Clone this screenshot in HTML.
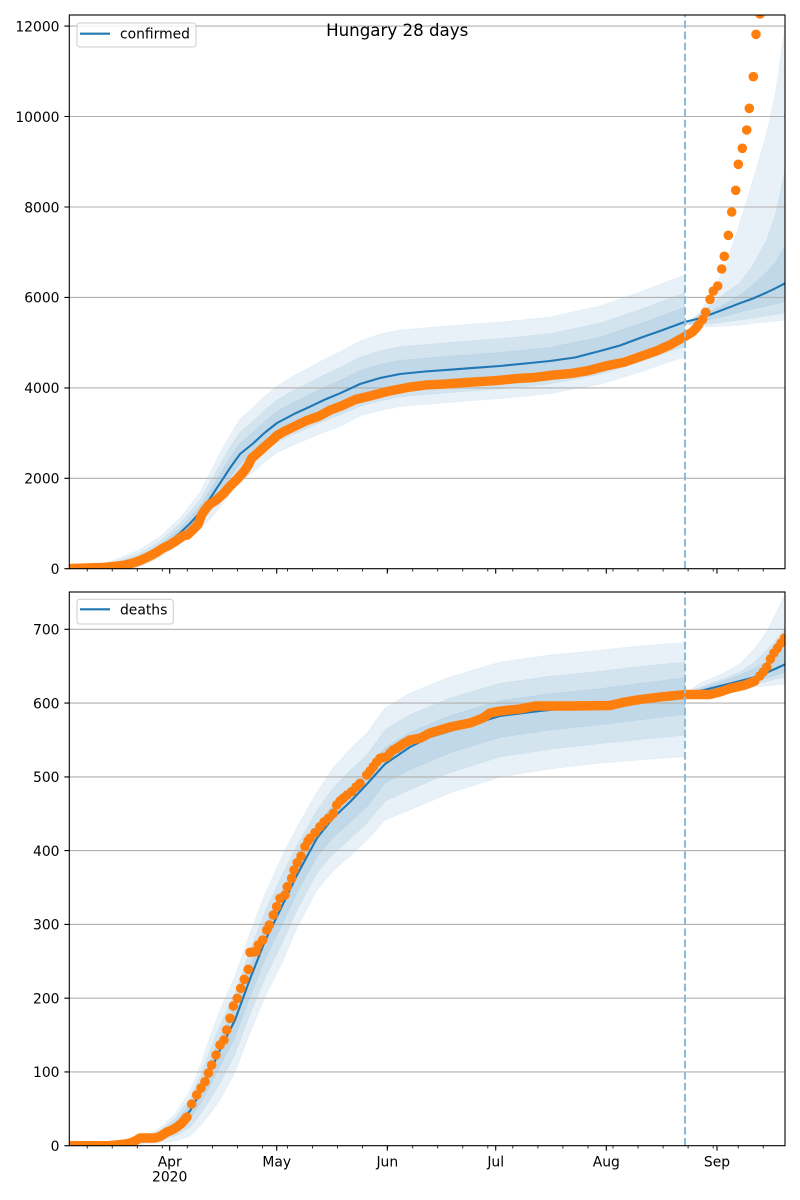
<!DOCTYPE html>
<html><head><meta charset="utf-8"><style>
html,body{margin:0;padding:0;background:#fff;}
svg{display:block;}
text{font-family:"DejaVu Sans","Liberation Sans",sans-serif;fill:#000;}
</style></head><body>
<svg width="800" height="1200" viewBox="0 0 800 1200" xmlns="http://www.w3.org/2000/svg">
<defs>
<clipPath id="c1"><rect x="69.3" y="15" width="715.7" height="553.7"/></clipPath>
<clipPath id="c2"><rect x="69.3" y="592" width="715.7" height="553.7"/></clipPath>
</defs>
<rect width="800" height="1200" fill="#fff"/>

<!-- ===== TOP CHART ===== -->
<g clip-path="url(#c1)">
<g fill="#1f77b4" fill-opacity="0.1" stroke="#1f77b4" stroke-opacity="0.06" stroke-width="0.8">
<polygon points="69.3,567.9 110,561.8 140,549.5 160,536.5 180,518.0 200,492.5 210,472.5 220,453.3 230,435.0 240,419.0 253,407.5 265,396.0 277,386.0 295,375.0 310,367.2 325,359.0 340,351.8 360,341.0 380,334.0 400,330.0 450,325.7 500,322.0 550,317.0 600,306.0 640,292.0 684.5,275.0 684.5,356.8 640,372.0 600,384.3 550,393.6 500,398.6 450,402.3 400,406.6 380,410.6 360,415.8 340,426.5 325,431.9 310,438.3 295,444.3 277,452.6 265,461.7 253,472.3 240,482.0 230,494.4 220,507.3 210,519.3 200,528.5 180,544.1 160,557.4 140,566.9 110,570.5 69.3,569"/>
<polygon points="69.3,568.1 110,563.7 140,553.3 160,541.1 180,523.7 200,500.1 210,482.4 220,464.7 230,447.5 240,432.3 253,421.2 265,409.9 277,400.1 295,389.6 310,382.2 325,374.4 340,367.6 360,357.3 380,350.7 400,346.7 450,342.4 500,338.7 550,333.7 600,323.1 640,309.5 684.5,292.9 684.5,346.4 640,361.9 600,374.4 550,383.9 500,388.9 450,392.6 400,396.9 380,400.9 360,406.4 340,414.9 325,420.6 310,427.2 295,433.5 277,442.2 265,451.5 253,462.2 240,472.2 230,485.2 220,498.9 210,512.0 200,522.9 180,540.8 160,554.7 140,564.7 110,569 69.3,569"/>
<polygon points="69.3,568.2 110,565.3 140,556.4 160,544.8 180,528.4 200,506.3 210,490.4 220,474.0 230,457.8 240,443.2 253,432.3 265,421.2 277,411.5 295,401.6 310,394.5 325,387.0 340,380.4 360,370.7 380,364.4 400,360.4 450,356.1 500,352.4 550,347.4 600,337.1 640,323.7 684.5,307.4 684.5,335.2 640,350.9 600,363.6 550,373.3 500,378.3 450,382.0 400,386.3 380,390.3 360,396.0 340,404.9 325,410.8 310,417.8 295,424.3 277,433.4 265,442.7 253,453.6 240,463.8 230,477.2 220,491.7 210,505.8 200,518.1 180,537.2 160,551.9 140,562.3 110,568.2 69.3,568.5"/>
<!-- forecast -->
<polygon points="686,324 700,312 713,292 726.7,263 740,222 753,180 766.7,133 776,90 785,26 785,320 776,321 766.7,322 753,323.5 740,325 726.7,326 713,326.5 700,327 686,324"/>
<polygon points="686,324 700,314 713,303 726.7,292 740,283 753,265 766.7,240 776,212 785,170 785,313 776,314.5 766.7,316 753,318 740,320 726.7,322 713,323.5 700,325 686,324"/>
<polygon points="686,324 700,316 713,310 726.7,303 740,295 753,285 766.7,272 776,262 785,245 785,301.7 776,304 766.7,306 753,309 740,312 726.7,316 713,319 700,322 686,324"/>
</g>
<!-- grid -->
<g stroke="#b0b0b0" stroke-width="1.1">
<line x1="69.3" x2="785" y1="478.3" y2="478.3"/>
<line x1="69.3" x2="785" y1="387.9" y2="387.9"/>
<line x1="69.3" x2="785" y1="297.4" y2="297.4"/>
<line x1="69.3" x2="785" y1="207.0" y2="207.0"/>
<line x1="69.3" x2="785" y1="116.5" y2="116.5"/>
<line x1="69.3" x2="785" y1="26.1" y2="26.1"/>
</g>
<!-- median -->
<polyline fill="none" stroke="#1f77b4" stroke-width="2.08" stroke-linejoin="round" points="69.3,568.4 90,568.0 110,566.8 127,564.0 140,559.5 150,554.5 160,548.5 170,541.0 180,533.0 190,523.5 200,512.5 210,498.5 220,483.3 230,468.0 240,454.0 253,443.5 265,432.5 277,423.0 295,413.5 310,406.7 325,399.5 340,393.3 360,384.0 380,378.0 400,374.0 425,371.5 450,369.7 475,367.8 500,366.0 525,363.5 550,361.0 575,357.5 600,351.0 620,345.5 640,338.0 660,331.0 684.5,322.0 700,318.3 713,313.5 726.7,308.3 740,303.2 753,298.5 766.7,292.5 776,288 785,283.3"/>
<!-- observed -->
<polyline fill="none" stroke="#ff7f0e" stroke-width="9.4" stroke-linecap="round" stroke-linejoin="round" points="69.3,568.6 105.1,567.3 123.0,565.4 133.7,562.8 140.8,560.2 148.0,556.9 155.1,553.2 162.3,548.5 169.5,545.0 176.6,540.5 183.8,535.6 187.3,535.1 194.5,528.2 198.1,524.4 201.6,514.9 205.2,509.5 208.8,504.9 216.0,500.3 223.1,494.0 230.3,485.8 237.4,479.0 244.6,470.7 248.2,465.4 251.7,458.2 258.9,451.9 266.0,445.4 273.2,439.2 276.8,435.7 283.9,431.5 294.7,426.3 305.4,421.1 319.7,415.9 330.4,410.0 341.2,406.0 355.5,399.5 369.8,396.1 387.7,391.4 409.1,387.2 427.0,384.9 444.9,384.1 462.8,382.7 480.7,381.6 495.0,380.7 516.4,378.6 534.3,377.5 552.2,375.2 570.1,373.6 588.0,370.7 605.9,365.9 623.7,362.3 641.6,356.1 655.9,351.1 670.2,344.8 684.5,336.7 691.7,332.4 695.3,329.0 698.9,324.5"/>
<g fill="#ff7f0e">
<circle cx="702.7" cy="319.3" r="4.8"/><circle cx="705.7" cy="312.3" r="4.8"/><circle cx="710" cy="299.3" r="4.8"/><circle cx="713.3" cy="291" r="4.8"/><circle cx="717.7" cy="286" r="4.8"/><circle cx="721.7" cy="269" r="4.8"/><circle cx="724.3" cy="256.3" r="4.8"/><circle cx="728.3" cy="235.3" r="4.8"/><circle cx="731.7" cy="212" r="4.8"/><circle cx="735.7" cy="190.3" r="4.8"/><circle cx="738.3" cy="164.3" r="4.8"/><circle cx="742.3" cy="148.3" r="4.8"/><circle cx="746.7" cy="130" r="4.8"/><circle cx="749.3" cy="108.3" r="4.8"/><circle cx="753.3" cy="76.7" r="4.8"/><circle cx="756" cy="34.3" r="4.8"/><circle cx="760" cy="14" r="4.8"/>
</g>
<line x1="685" y1="568.7" x2="685" y2="15" stroke="#8fbbda" stroke-width="2.08" stroke-dasharray="7.7 3.33"/>
</g>
<rect x="69.3" y="15" width="715.7" height="553.7" fill="none" stroke="#000" stroke-width="1.1"/>
<!-- top ticks -->
<path stroke="#000" stroke-width="1.1" fill="none" d="M64.4 568.7H69.3M64.4 478.3H69.3M64.4 387.9H69.3M64.4 297.4H69.3M64.4 207.0H69.3M64.4 116.5H69.3M64.4 26.1H69.3
M169.7 568.7v4.9M276.7 568.7v4.9M387.3 568.7v4.9M495.7 568.7v4.9M606.3 568.7v4.9M717 568.7v4.9"/>
<path stroke="#000" stroke-width="0.8" fill="none" d="M87.2 568.7v2.8M112.2 568.7v2.8M137.3 568.7v2.8M162.3 568.7v2.8M187.3 568.7v2.8M212.4 568.7v2.8M237.4 568.7v2.8M262.5 568.7v2.8M287.5 568.7v2.8M312.5 568.7v2.8M337.6 568.7v2.8M362.6 568.7v2.8M387.7 568.7v2.8M412.7 568.7v2.8M437.7 568.7v2.8M462.8 568.7v2.8M487.8 568.7v2.8M512.8 568.7v2.8M537.9 568.7v2.8M562.9 568.7v2.8M588.0 568.7v2.8M613.0 568.7v2.8M638.0 568.7v2.8M663.1 568.7v2.8M688.1 568.7v2.8M713.2 568.7v2.8M738.2 568.7v2.8M763.2 568.7v2.8"/>
<g font-size="13.89" text-anchor="end">
<text x="59.5" y="574">0</text>
<text x="59.5" y="483.6">2000</text>
<text x="59.5" y="393.2">4000</text>
<text x="59.5" y="302.7">6000</text>
<text x="59.5" y="212.3">8000</text>
<text x="59.5" y="121.8">10000</text>
<text x="59.5" y="31.4">12000</text>
</g>
<!-- legend top -->
<rect x="77" y="23" width="119" height="24" rx="2.8" fill="#fff" fill-opacity="0.8" stroke="#cccccc" stroke-width="1"/>
<line x1="80" y1="33.7" x2="110" y2="33.7" stroke="#1f77b4" stroke-width="2.08"/>
<text x="120" y="38.3" font-size="13.89">confirmed</text>

<!-- title -->
<text x="397.2" y="36" font-size="16.67" text-anchor="middle">Hungary 28 days</text>

<!-- ===== BOTTOM CHART ===== -->
<g clip-path="url(#c2)">
<g fill="#1f77b4" fill-opacity="0.1" stroke="#1f77b4" stroke-opacity="0.06" stroke-width="0.8">
<polygon points="69.3,1145.7 120,1143.8 140,1138.5 160,1128 175,1114 190,1091 200,1066 210,1037 220,1010 235,976 250,933 265,894 283,854 297,827 317,792 333,768 350,749 367,733 385,708 410,693 450,677 500,662 550,655 600,650 640,646 685,642.5 685,756.5 640,760 600,763 550,769 500,777 450,793 410,810 385,820 367,840 350,856 333,871 317,890 297,928 283,961 265,997 250,1033 235,1072 220,1100 210,1114 200,1126 190,1136 175,1141 160,1143 140,1144.5 120,1145.8 69.3,1146"/>
<polygon points="69.3,1145.7 120,1144.2 140,1139.6 160,1130.7 175,1118.6 190,1098.6 200,1076.3 210,1050.3 220,1025.2 235,992.7 250,950.5 265,911.9 283,873 297,845.2 317,810.2 333,788.1 350,770.7 367,754.7 385,729.7 410,714.7 450,698.3 500,683.3 550,676.3 600,671.3 640,666.5 685,661.9 685,735.1 640,739.6 600,743.6 550,749.3 500,756.9 450,772.6 410,789.6 385,801.3 367,823 350,839 333,854 317,873 297,910 283,941.6 265,978 250,1014.6 235,1054.3 220,1083 210,1099.7 200,1114.8 190,1127.5 175,1135.9 160,1140.3 140,1143.5 120,1145.5 69.3,1146"/>
<polygon points="69.3,1145.7 120,1144.5 140,1140.6 160,1132.8 175,1122.3 190,1104.8 200,1084.6 210,1061.2 220,1037.6 235,1006.4 250,964.7 265,926.4 283,888.5 297,860.1 317,825.1 333,804.6 350,788.3 367,772.3 385,747.3 410,732.3 450,715.6 500,700.6 550,693.6 600,688.6 640,683.3 685,677.7 685,714.3 640,719.8 600,724.8 550,730.1 500,737.5 450,752.8 410,769.8 385,783.2 367,806.5 350,822.5 333,837.5 317,856.5 297,892.5 283,922.8 265,959.5 250,996.8 235,1037.2 220,1066.5 210,1085.9 200,1103.9 190,1119.3 175,1131 160,1137.6 140,1142.5 120,1145.1 69.3,1146"/>
<!-- forecast -->
<polygon points="686,693.5 700,683 720,675 740,664 755,648 766.7,632 776,613 785,594 785,684 776,685 766.7,686 755,687 740,689 720,691 700,692.5 686,693.5"/>
<polygon points="686,693.5 700,687 720,680 740,672 755,662 766.7,650 776,640 785,628 785,677 776,679 766.7,681.5 755,684 740,686.5 720,689.5 700,692 686,693.5"/>
<polygon points="686,693.5 700,688.5 720,682 740,675 755,668 766.7,662 776,656 785,648 785,672 776,675 766.7,678 755,681 740,684 720,688 700,691.5 686,693.5"/>
</g>
<g stroke="#b0b0b0" stroke-width="1.1">
<line x1="69.3" x2="785" y1="1071.9" y2="1071.9"/>
<line x1="69.3" x2="785" y1="998.2" y2="998.2"/>
<line x1="69.3" x2="785" y1="924.4" y2="924.4"/>
<line x1="69.3" x2="785" y1="850.6" y2="850.6"/>
<line x1="69.3" x2="785" y1="776.9" y2="776.9"/>
<line x1="69.3" x2="785" y1="703.1" y2="703.1"/>
<line x1="69.3" x2="785" y1="629.3" y2="629.3"/>
</g>
<polyline fill="none" stroke="#1f77b4" stroke-width="2.08" stroke-linejoin="round" points="69.3,1145.7 120,1145 140,1141.5 160,1135 175,1126 190,1111 200,1093 210,1072 220,1050 235,1020 250,979 265,941 283,904 297,875 317,838 333,818 350,802 367,784 385,764 410,747 430,737 460,728 500,716 540,711 580,707 620,702.5 660,697.5 685,693.5 700,691 720,686 740,681 755,677 766.7,672.5 776,668.5 785,664.3"/>
<polyline fill="none" stroke="#ff7f0e" stroke-width="9.4" stroke-linecap="round" stroke-linejoin="round" points="69.3,1145.7 108,1145.7 115,1145 125,1144 130,1143 135,1141 140,1138 155,1138 160,1136.5 167,1132 172,1130 177,1127 182,1123 187,1117"/>
<g fill="#ff7f0e">
<circle cx="191.7" cy="1104" r="4.8"/><circle cx="196.7" cy="1095" r="4.8"/><circle cx="201" cy="1088" r="4.8"/><circle cx="205" cy="1081.7" r="4.8"/><circle cx="208.5" cy="1073" r="4.8"/><circle cx="211.7" cy="1065" r="4.8"/><circle cx="216" cy="1055" r="4.8"/><circle cx="220" cy="1045" r="4.8"/><circle cx="224" cy="1040" r="4.8"/><circle cx="226.7" cy="1030" r="4.8"/><circle cx="230" cy="1018.3" r="4.8"/><circle cx="233.3" cy="1006" r="4.8"/><circle cx="237.3" cy="998.3" r="4.8"/><circle cx="240.7" cy="988.3" r="4.8"/><circle cx="244.3" cy="979.3" r="4.8"/><circle cx="248.3" cy="969.3" r="4.8"/><circle cx="250" cy="952.3" r="4.8"/><circle cx="253" cy="952" r="4.8"/><circle cx="256" cy="951.7" r="4.8"/><circle cx="258.3" cy="945" r="4.8"/><circle cx="262.7" cy="940" r="4.8"/><circle cx="266.7" cy="930" r="4.8"/><circle cx="269.3" cy="925" r="4.8"/><circle cx="273.3" cy="915" r="4.8"/><circle cx="276.7" cy="906.7" r="4.8"/><circle cx="280" cy="898.3" r="4.8"/><circle cx="285" cy="895" r="4.8"/><circle cx="287.3" cy="886.7" r="4.8"/><circle cx="291.7" cy="878.3" r="4.8"/><circle cx="294" cy="870" r="4.8"/><circle cx="297.3" cy="862.7" r="4.8"/><circle cx="301" cy="856" r="4.8"/><circle cx="305" cy="846.7" r="4.8"/><circle cx="308" cy="841" r="4.8"/><circle cx="310" cy="838.3" r="4.8"/><circle cx="315" cy="832.7" r="4.8"/><circle cx="320" cy="826.7" r="4.8"/><circle cx="324" cy="822" r="4.8"/><circle cx="328.3" cy="818.3" r="4.8"/><circle cx="333.3" cy="813.3" r="4.8"/><circle cx="336.7" cy="805" r="4.8"/><circle cx="340" cy="801" r="4.8"/><circle cx="343.3" cy="798.3" r="4.8"/><circle cx="347" cy="795" r="4.8"/><circle cx="351.7" cy="791.7" r="4.8"/><circle cx="356" cy="787" r="4.8"/><circle cx="360" cy="783.3" r="4.8"/><circle cx="366.7" cy="775" r="4.8"/><circle cx="370" cy="771" r="4.8"/><circle cx="373.3" cy="766.7" r="4.8"/><circle cx="376.7" cy="762" r="4.8"/><circle cx="380" cy="758.3" r="4.8"/><circle cx="383" cy="757.5" r="4.8"/><circle cx="386.7" cy="756.7" r="4.8"/><circle cx="390" cy="753" r="4.8"/><circle cx="393" cy="750" r="4.8"/><circle cx="396.7" cy="748.3" r="4.8"/>
</g>
<polyline fill="none" stroke="#ff7f0e" stroke-width="9.4" stroke-linecap="round" stroke-linejoin="round" points="396.7,748.3 403,744 410,740 420,738.3 430,733 450,727 470,723 483,718 490,713 500,711 520,709 535,706 570,706 610,705.5 625,702 640,699.5 660,697 685,694.5 710,694.5 720,692 730,688.5 745,685 755,681"/>
<g fill="#ff7f0e">
<circle cx="759.7" cy="676" r="4.8"/><circle cx="763.2" cy="672" r="4.8"/><circle cx="766.8" cy="667" r="4.8"/><circle cx="770.4" cy="659" r="4.8"/><circle cx="773.9" cy="653" r="4.8"/><circle cx="777.5" cy="648" r="4.8"/><circle cx="781.1" cy="643" r="4.8"/><circle cx="784.7" cy="638" r="4.8"/>
</g>
<line x1="685" y1="1145.7" x2="685" y2="592" stroke="#8fbbda" stroke-width="2.08" stroke-dasharray="7.7 3.33"/>
</g>
<rect x="69.3" y="592" width="715.7" height="553.7" fill="none" stroke="#000" stroke-width="1.1"/>
<path stroke="#000" stroke-width="1.1" fill="none" d="M64.4 1145.7H69.3M64.4 1071.9H69.3M64.4 998.2H69.3M64.4 924.4H69.3M64.4 850.6H69.3M64.4 776.9H69.3M64.4 703.1H69.3M64.4 629.3H69.3
M169.7 1145.7v4.9M276.7 1145.7v4.9M387.3 1145.7v4.9M495.7 1145.7v4.9M606.3 1145.7v4.9M717 1145.7v4.9"/>
<path stroke="#000" stroke-width="0.8" fill="none" d="M87.2 1145.7v2.8M112.2 1145.7v2.8M137.3 1145.7v2.8M162.3 1145.7v2.8M187.3 1145.7v2.8M212.4 1145.7v2.8M237.4 1145.7v2.8M262.5 1145.7v2.8M287.5 1145.7v2.8M312.5 1145.7v2.8M337.6 1145.7v2.8M362.6 1145.7v2.8M387.7 1145.7v2.8M412.7 1145.7v2.8M437.7 1145.7v2.8M462.8 1145.7v2.8M487.8 1145.7v2.8M512.8 1145.7v2.8M537.9 1145.7v2.8M562.9 1145.7v2.8M588.0 1145.7v2.8M613.0 1145.7v2.8M638.0 1145.7v2.8M663.1 1145.7v2.8M688.1 1145.7v2.8M713.2 1145.7v2.8M738.2 1145.7v2.8M763.2 1145.7v2.8"/>
<g font-size="13.89" text-anchor="end">
<text x="59.5" y="1151">0</text>
<text x="59.5" y="1077.2">100</text>
<text x="59.5" y="1003.5">200</text>
<text x="59.5" y="929.7">300</text>
<text x="59.5" y="855.9">400</text>
<text x="59.5" y="782.2">500</text>
<text x="59.5" y="708.4">600</text>
<text x="59.5" y="634.6">700</text>
</g>
<g font-size="13.89" text-anchor="middle">
<text x="169.7" y="1166.5">Apr</text>
<text x="169.7" y="1181.5">2020</text>
<text x="276.7" y="1166.5">May</text>
<text x="387.3" y="1166.5">Jun</text>
<text x="495.7" y="1166.5">Jul</text>
<text x="606.3" y="1166.5">Aug</text>
<text x="717" y="1166.5">Sep</text>
</g>
<!-- legend bottom -->
<rect x="77" y="599.3" width="96.3" height="24.7" rx="2.8" fill="#fff" fill-opacity="0.8" stroke="#cccccc" stroke-width="1"/>
<line x1="80" y1="609.3" x2="110" y2="609.3" stroke="#1f77b4" stroke-width="2.08"/>
<text x="120" y="614.3" font-size="13.89">deaths</text>
</svg>
</body></html>
